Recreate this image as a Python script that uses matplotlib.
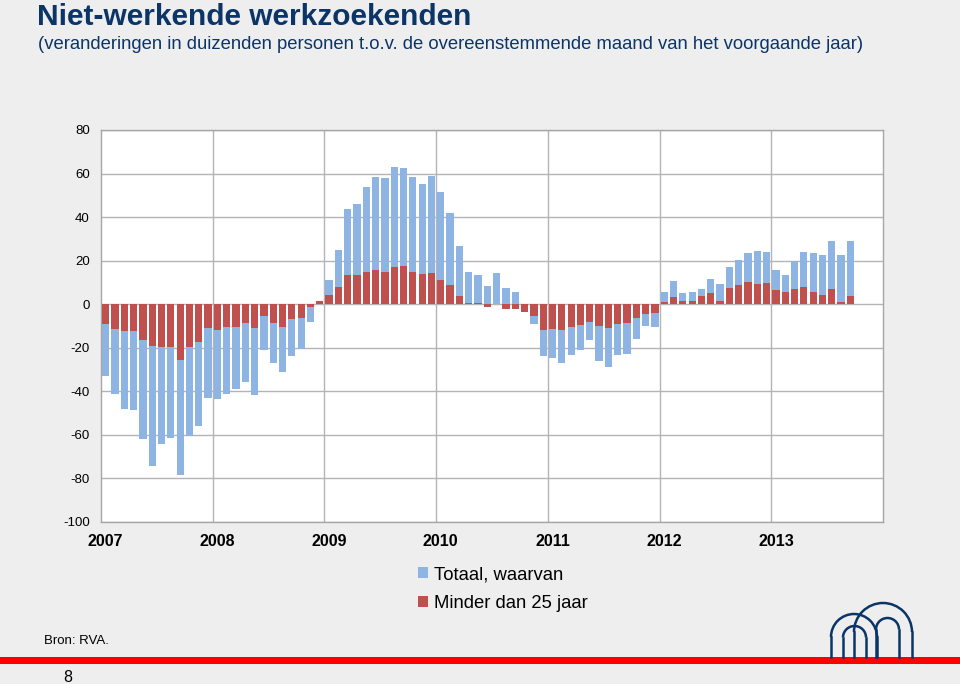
import matplotlib
matplotlib.use("Agg")
import matplotlib.pyplot as plt
import matplotlib.patches as patches
import numpy as np

# ==========================================
# DATA (monthly, Jan 2007 - Sep 2013, thousands of persons, y-o-y change)
# ==========================================
years = ["2007", "2008", "2009", "2010", "2011", "2012", "2013"]

totaal = [
    -32.8, -41.2, -48.2, -48.4, -61.8, -74.4, -64.3, -61.2, -78.4, -60.6, -55.9, -43.2,  # 2007
    -43.6, -41.3, -39.0, -35.7, -41.6, -21.1, -26.9, -31.1, -23.7, -20.7, -8.0, 1.2,      # 2008
    11.2, 24.9, 43.6, 46.2, 54.0, 58.5, 58.0, 62.9, 62.5, 58.2, 55.4, 58.9,               # 2009
    51.7, 41.9, 26.8, 14.8, 13.3, 8.3, 14.4, 7.5, 5.4, -2.5, -8.9, -23.9,                 # 2010
    -24.5, -26.8, -23.1, -21.1, -16.5, -26.0, -28.8, -23.1, -22.7, -16.1, -9.9, -10.6,    # 2011
    5.7, 10.6, 5.2, 5.5, 6.9, 11.6, 9.3, 17.3, 20.2, 23.7, 24.3, 23.9,                    # 2012
    15.6, 13.5, 19.7, 24.0, 23.3, 22.7, 28.9, 22.7, 29.2,                                 # 2013
]

minder_25 = [
    -9.0, -11.5, -12.1, -12.1, -16.4, -19.1, -19.7, -19.7, -25.4, -19.6, -17.3, -10.9,    # 2007
    -11.9, -10.3, -10.4, -8.7, -10.9, -5.5, -8.6, -10.3, -7.0, -6.3, -1.1, 1.7,           # 2008
    4.4, 7.7, 13.5, 13.2, 14.8, 15.9, 14.7, 17.0, 17.6, 14.8, 13.8, 14.2,                 # 2009
    11.1, 9.0, 4.0, 0.6, 0.6, -1.4, 0.2, -2.0, -2.1, -3.8, -5.6, -11.9,                   # 2010
    -11.3, -11.9, -10.3, -9.6, -8.0, -10.1, -10.7, -9.3, -8.6, -6.1, -4.5, -4.0,          # 2011
    1.2, 3.5, 1.5, 1.5, 3.8, 5.2, 1.4, 7.5, 8.9, 10.3, 9.5, 9.9,                          # 2012
    6.4, 5.7, 7.0, 8.1, 5.7, 4.3, 7.2, 1.2, 3.8,                                          # 2013
]

labels = ["Totaal, waarvan", "Minder dan 25 jaar"]

# ==========================================
# STYLE
# ==========================================
BG = "#eeeeee"
BLUE = "#8db4e2"
RED = "#c0504d"
NAVY = "#0b3467"
GRID = "#b4b4b4"
W, H = 960, 684

plt.rcParams["font.family"] = ["Liberation Sans", "DejaVu Sans"]
plt.rcParams["axes.unicode_minus"] = False

fig = plt.figure(figsize=(W / 100, H / 100), dpi=100, facecolor=BG)

# plot area in pixel coords: left 101, right 883, top 130, bottom 522
ax = fig.add_axes([101 / W, 1 - 522 / H, (883 - 101) / W, (522 - 130) / H])
ax.set_facecolor("white")

x = np.arange(len(totaal))
b1 = ax.bar(x, totaal, width=0.78, color=BLUE, zorder=2, label=labels[0])
b2 = ax.bar(x, minder_25, width=0.78, color=RED, zorder=3, label=labels[1])

n_months = 12 * len(years)
ax.set_xlim(-0.5, n_months - 0.5)
ax.set_ylim(-100, 80)

ax.set_yticks(np.arange(-100, 81, 20))
ax.set_xticks(np.arange(0, n_months, 12))
ax.set_xticklabels(years, fontsize=11.5, fontweight="bold")
ax.set_xticks(np.arange(11.5, n_months - 1, 12), minor=True)

ax.grid(axis="y", which="major", color=GRID, linewidth=1, zorder=0)
ax.grid(axis="x", which="minor", color=GRID, linewidth=1, zorder=0)
ax.set_axisbelow(True)

ax.tick_params(axis="x", which="both", length=0, pad=9)
ax.tick_params(axis="y", length=0, labelsize=9.5, pad=8)
for s in ax.spines.values():
    s.set_color("#a6a6a6")
    s.set_linewidth(1)

# ==========================================
# TEXTS
# ==========================================
fig.text(37 / W, 1 - 25 / H, "Niet-werkende werkzoekenden", fontsize=21.5,
         fontweight="bold", color=NAVY, va="baseline", ha="left")
fig.text(38 / W, 1 - 49 / H,
         "(veranderingen in duizenden personen t.o.v. de overeenstemmende maand van het voorgaande jaar)",
         fontsize=13.3, color=NAVY, va="baseline", ha="left")

fig.legend(handles=[b1, b2], labels=labels, loc="upper left",
           bbox_to_anchor=(418 / W, 1 - 566 / H), frameon=False,
           fontsize=13.3, handlelength=0.55, handleheight=0.55,
           handletextpad=0.3, labelspacing=0.65, borderpad=0, borderaxespad=0)

fig.text(44 / W, 1 - 641 / H, "Bron: RVA.", fontsize=9.5, color="black",
         va="center", ha="left")
fig.text(68 / W, 1 - 677 / H, "8", fontsize=11.5, color="black",
         va="center", ha="center")

# ==========================================
# DECORATION: red rule and logo (pixel overlay)
# ==========================================
ov = fig.add_axes([0, 0, 1, 1], facecolor="none")
ov.set_xlim(0, W)
ov.set_ylim(H, 0)
ov.axis("off")
ov.add_patch(patches.Rectangle((0, 657), W, 7, color="#ff0000", lw=0))


def arch(left, right, top, bottom, lw=1.8):
    r = (right - left) / 2
    cx = left + r
    cy = top + r
    ov.add_patch(patches.Arc((cx, cy), 2 * r, 2 * r, theta1=180, theta2=360,
                             color=NAVY, lw=lw))
    ov.plot([left, left], [cy, bottom], color=NAVY, lw=lw)
    ov.plot([right, right], [cy, bottom], color=NAVY, lw=lw)


arch(854, 912, 603, 657)
arch(831, 877, 614, 657)
arch(876, 899, 618, 657)
arch(843, 866, 626, 657)

fig.savefig("out.png", dpi=100, facecolor=BG)
